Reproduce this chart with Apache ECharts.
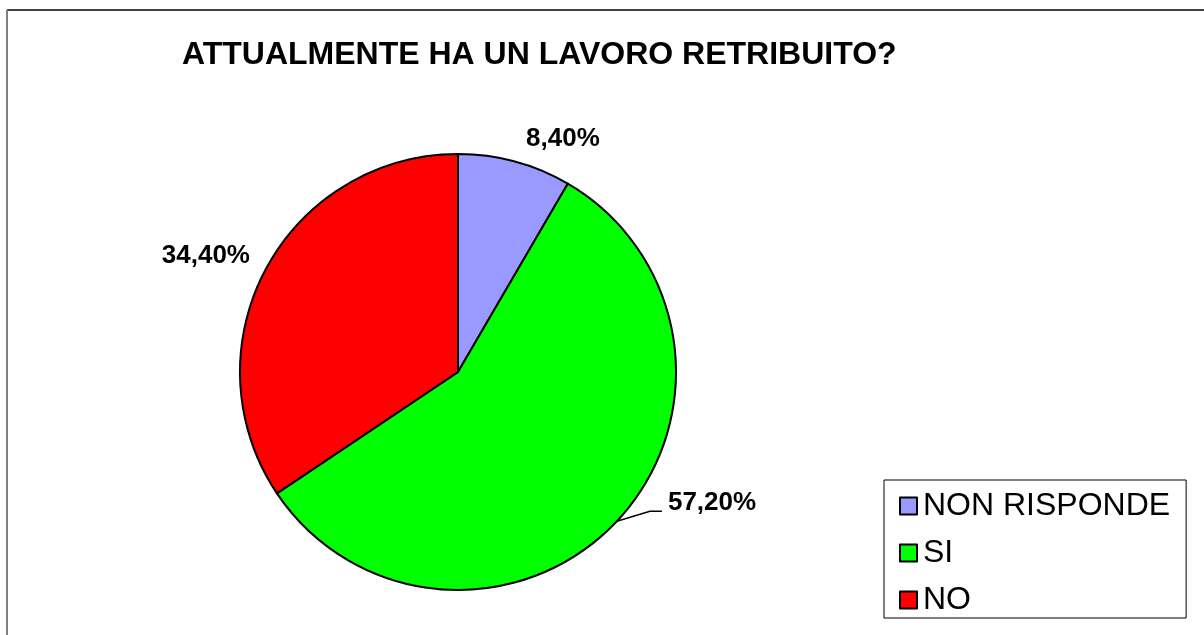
<!DOCTYPE html>
<html>
<head>
<meta charset="utf-8">
<script src="https://cdn.jsdelivr.net/npm/echarts@6/dist/echarts.min.js"></script>
<style>
html,body{margin:0;padding:0;background:#fff;}
#chart{width:1204px;height:635px;}
</style>
</head>
<body>
<div id="chart"></div>
<script>
const titleText = 'ATTUALMENTE HA UN LAVORO RETRIBUITO?';
const categories = ['NON RISPONDE', 'SI', 'NO'];
const values = [8.4, 57.2, 34.4];
const labels = ['8,40%', '57,20%', '34,40%'];
const colors = ['#9999FF', '#00FF00', '#FF0000'];

const FONT = '"Liberation Sans", Arial, Helvetica, sans-serif';

const lineLens = [
  { length: 24, length2: 0, show: false },
  { length: 10, length2: 20, show: true },
  { length: 28, length2: 0, show: false }
];

const chart = echarts.init(document.getElementById('chart'), null, { renderer: 'canvas' });

const data = categories.map((c, i) => ({
  name: c,
  value: values[i],
  itemStyle: { color: colors[i] },
  labelLine: {
    show: lineLens[i].show,
    length: lineLens[i].length,
    length2: lineLens[i].length2,
    lineStyle: { color: '#000', width: 1.5 }
  }
}));

chart.setOption({
  animation: false,
  backgroundColor: '#fff',
  title: {
    text: titleText,
    left: 177,
    top: 34,
    textStyle: { fontFamily: FONT, fontWeight: 'bold', fontSize: 32, color: '#000' }
  },
  legend: {
    orient: 'vertical',
    left: 884,
    top: 480,
    data: categories,
    icon: 'rect',
    itemWidth: 17,
    itemHeight: 17,
    itemGap: 15,
    padding: [10, 16, 2, 15],
    borderColor: '#000',
    borderWidth: 1,
    backgroundColor: '#fff',
    textStyle: { fontFamily: FONT, fontSize: 32, color: '#000', padding: [0, 0, 0, 1] }
  },
  graphic: [
    { type: 'line', shape: { x1: 7, y1: 10, x2: 1204, y2: 10 }, style: { stroke: '#000', lineWidth: 1.5 }, z: 100 },
    { type: 'line', shape: { x1: 7, y1: 10, x2: 7, y2: 635 }, style: { stroke: '#808080', lineWidth: 2 }, z: 100 }
  ],
  series: [{
    type: 'pie',
    center: [458, 372],
    radius: 218,
    startAngle: 90,
    clockwise: true,
    avoidLabelOverlap: false,
    itemStyle: { borderColor: '#000', borderWidth: 2 },
    emphasis: { disabled: true },
    label: {
      show: true,
      position: 'outside',
      formatter: p => labels[p.dataIndex],
      fontFamily: FONT,
      fontWeight: 'bold',
      fontSize: 26,
      color: '#000',
      distanceToLabelLine: 5
    },
    labelLayout: function (params) {
      if (params.dataIndex === 2) {
        return { dx: 14 };
      }
      if (params.dataIndex === 1 && params.labelLinePoints) {
        const p = params.labelLinePoints[0];
        return {
          x: p[0] + 51,
          y: p[1] - 18,
          align: 'left',
          verticalAlign: 'middle',
          labelLinePoints: [[p[0], p[1]], [p[0] + 33, p[1] - 10], [p[0] + 45, p[1] - 10]]
        };
      }
      return {};
    },
    data: data
  }]
});
</script>
</body>
</html>
